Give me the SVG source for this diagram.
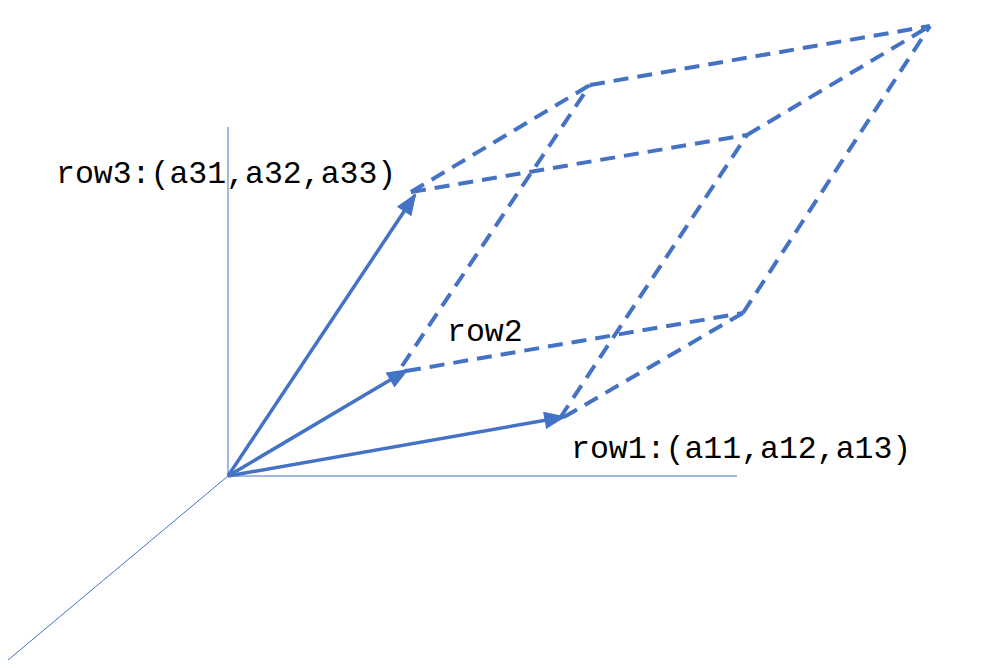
<svg xmlns="http://www.w3.org/2000/svg" width="1002" height="672" viewBox="0 0 1002 672">
<style>
.axis{stroke:#4472C4;stroke-width:1;fill:none}
.vec{stroke:#4472C4;stroke-width:3.5;fill:none;marker-end:url(#ah)}
.dash{stroke:#4472C4;stroke-width:4;fill:none;stroke-dasharray:15 9}
.lbl{font-family:"Liberation Mono","Courier New",monospace;font-size:31.5px;fill:#000}
</style>
<defs>
<marker id="ah" viewBox="0 0 10 8" refX="9" refY="4" markerWidth="6.5" markerHeight="5" orient="auto" markerUnits="strokeWidth">
<path d="M0,0 L10,4 L0,8 Z" fill="#4472C4"/>
</marker>
</defs>
<g id="axes">
<line class="axis" x1="228" y1="127" x2="228" y2="476"/>
<line class="axis" x1="228" y1="476" x2="737" y2="476"/>
<line class="axis" x1="228" y1="476" x2="8" y2="660"/>
</g>
<g id="connectors">
<line class="vec" x1="228" y1="476" x2="415" y2="195"/>
<line class="vec" x1="228" y1="476" x2="407" y2="370"/>
<line class="vec" x1="228" y1="476" x2="564" y2="417"/>
<line class="dash" x1="411" y1="192" x2="590" y2="85"/>
<line class="dash" x1="411" y1="192" x2="747" y2="135"/>
<line class="dash" x1="402" y1="366" x2="590" y2="85"/>
<line class="dash" x1="406" y1="371" x2="743" y2="313"/>
<line class="dash" x1="560" y1="418" x2="747" y2="135"/>
<line class="dash" x1="564" y1="417" x2="743" y2="313"/>
<line class="dash" x1="743" y1="313" x2="930" y2="26"/>
<line class="dash" x1="747" y1="135" x2="930" y2="26"/>
<line class="dash" x1="590" y1="85" x2="930" y2="26"/>
</g>
<g id="row3"><text class="lbl" x="56" y="183">row3:(a31,a32,a33)</text></g>
<g id="row2"><text class="lbl" x="447" y="341">row2</text></g>
<g id="row1"><text class="lbl" x="571" y="458">row1:(a11,a12,a13)</text></g>
</svg>
